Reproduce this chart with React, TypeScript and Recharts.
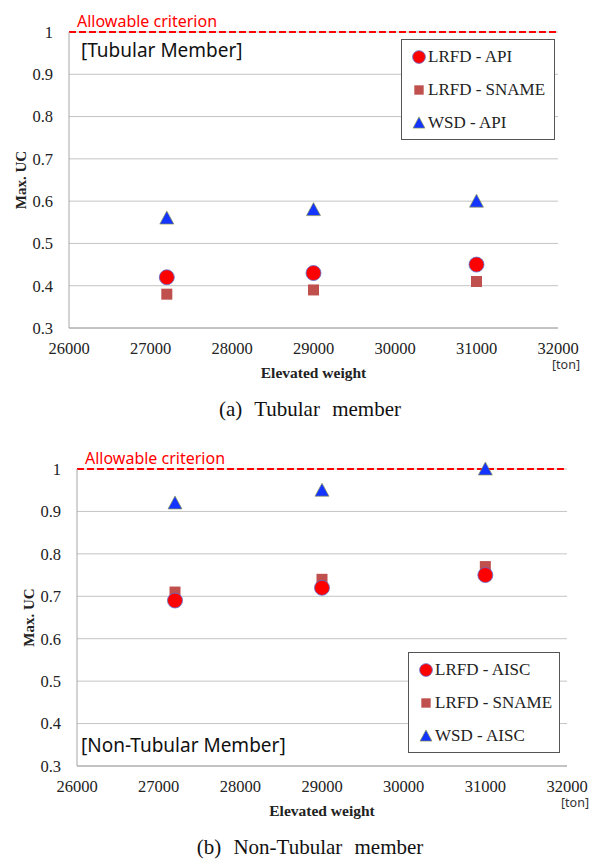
import React from 'react'
import { ScatterChart, Scatter, XAxis, YAxis, CartesianGrid, ReferenceLine, Legend } from 'recharts'

const weights = [27200, 29000, 31000]
const xTicks = [26000, 27000, 28000, 29000, 30000, 31000, 32000]
const yTicks = [0.3, 0.4, 0.5, 0.6, 0.7, 0.8, 0.9, 1]
const allowable = 1

// (a) tubular member
const tubularLrfdApi = [0.42, 0.43, 0.45]
const tubularLrfdSname = [0.38, 0.39, 0.41]
const tubularWsdApi = [0.56, 0.58, 0.6]

// (b) non-tubular member
const nonTubularLrfdAisc = [0.69, 0.72, 0.75]
const nonTubularLrfdSname = [0.71, 0.74, 0.77]
const nonTubularWsdAisc = [0.92, 0.95, 1.0]

type Kind = 'circle' | 'square' | 'triangle'

interface Series {
  name: string
  values: number[]
  kind: Kind
}

const serif = 'Liberation Serif, serif'
const sans = 'Noto Sans, DejaVu Sans, sans-serif'

function Marker({ kind, cx, cy, scale = 1 }: { kind: Kind; cx: number; cy: number; scale?: number }) {
  if (kind === 'circle') {
    return <circle cx={cx} cy={cy} r={7.5 * scale} fill="#ff0000" stroke="#5b6fd0" strokeWidth={0.8} />
  }
  if (kind === 'square') {
    const s = 11 * scale
    return <rect x={cx - s / 2} y={cy - s / 2} width={s} height={s} fill="#c0504d" />
  }
  const w = 14 * scale
  const h = 12 * scale
  return (
    <polygon
      points={`${cx},${cy - h / 2 - 1} ${cx - w / 2},${cy + h / 2} ${cx + w / 2},${cy + h / 2}`}
      fill="#1434ff"
      stroke="#8c9a52"
      strokeWidth={0.7}
    />
  )
}

interface ChartProps {
  series: Series[]
  margin: { top: number; right: number; bottom: number; left: number }
  legendLeft: number
  legendTop: number
  legendWidth: number
}

function MemberChart({ series, margin, legendLeft, legendTop, legendWidth }: ChartProps) {
  const toPoints = (vals: number[]) => weights.map((w, i) => ({ weight: w, uc: vals[i] }))
  // draw squares first so circles sit on top of them
  const drawOrder = [...series].sort((a, b) => (a.kind === 'square' ? -1 : b.kind === 'square' ? 1 : 0))

  return (
    <ScatterChart width={589} height={390} margin={margin}>
      <CartesianGrid vertical={false} stroke="#c4c4c4" />
      <XAxis
        type="number"
        dataKey="weight"
        domain={[26000, 32000]}
        ticks={xTicks}
        height={30}
        axisLine={{ stroke: '#a6a6a6' }}
        tickLine={false}
        tickSize={0}
        tickMargin={14}
        tick={{ fill: '#222', fontSize: 16.5, fontFamily: serif }}
        label={(p: any) => {
          const { x, y, width } = p.viewBox
          return (
            <g>
              <text x={x + width / 2} y={y + 50} textAnchor="middle" fontFamily={serif} fontWeight="bold" fontSize={15.5} fill="#222">
                Elevated weight
              </text>
              <text x={x + width + 8} y={y + 41} textAnchor="middle" fontFamily={sans} fontSize={12.5} fill="#333">
                [ton]
              </text>
            </g>
          )
        }}
      />
      <YAxis
        type="number"
        dataKey="uc"
        domain={[0.3, 1]}
        ticks={yTicks}
        width={50}
        axisLine={{ stroke: '#a6a6a6' }}
        tickLine={false}
        tickSize={0}
        tickMargin={16}
        tick={{ fill: '#222', fontSize: 16.5, fontFamily: serif }}
        label={(p: any) => {
          const { x, y, height } = p.viewBox
          const cx = x + 2
          const cy = y + height / 2
          return (
            <text x={cx} y={cy} transform={`rotate(-90 ${cx} ${cy})`} textAnchor="middle" dominantBaseline="central" fontFamily={serif} fontWeight="bold" fontSize={15} fill="#222">
              Max. UC
            </text>
          )
        }}
      />
      <ReferenceLine
        y={allowable}
        stroke="#ff0000"
        strokeWidth={2}
        strokeDasharray="7 3"
        label={(p: any) => (
          <text x={p.viewBox.x + 8} y={p.viewBox.y - 5} fontFamily={sans} fontSize={16} fill="#ff0000">
            Allowable criterion
          </text>
        )}
      />
      {drawOrder.map((s) => (
        <Scatter
          key={s.name}
          name={s.name}
          data={toPoints(s.values)}
          isAnimationActive={false}
          shape={(p: any) => <Marker kind={s.kind} cx={p.cx} cy={p.cy} />}
        />
      ))}
      <Legend
        layout="vertical"
        align="center"
        verticalAlign="middle"
        wrapperStyle={{ left: legendLeft, top: legendTop, width: legendWidth }}
        content={() => (
          <div style={{ border: '1.5px solid #555', background: '#fff', padding: '0 0 0 10px', boxSizing: 'border-box' }}>
            {series.map((s) => (
              <div key={s.name} style={{ display: 'flex', alignItems: 'center', height: 33 }}>
                <svg width={15} height={14} style={{ marginRight: 1 }}>
                  <Marker kind={s.kind} cx={7} cy={7} scale={0.85} />
                </svg>
                <span style={{ fontFamily: serif, fontSize: 17, color: '#222' }}>{s.name}</span>
              </div>
            ))}
          </div>
        )}
      />
    </ScatterChart>
  )
}

const tubularSeries: Series[] = [
  { name: 'LRFD - API', values: tubularLrfdApi, kind: 'circle' },
  { name: 'LRFD - SNAME', values: tubularLrfdSname, kind: 'square' },
  { name: 'WSD - API', values: tubularWsdApi, kind: 'triangle' },
]

const nonTubularSeries: Series[] = [
  { name: 'LRFD - AISC', values: nonTubularLrfdAisc, kind: 'circle' },
  { name: 'LRFD - SNAME', values: nonTubularLrfdSname, kind: 'square' },
  { name: 'WSD - AISC', values: nonTubularWsdAisc, kind: 'triangle' },
]

const memberLabel: React.CSSProperties = {
  position: 'absolute',
  fontFamily: sans,
  fontSize: 19,
  color: '#111',
  whiteSpace: 'nowrap',
}

const caption: React.CSSProperties = {
  position: 'absolute',
  left: 0,
  width: 620,
  textAlign: 'center',
  fontFamily: serif,
  fontSize: 21,
  color: '#111',
  wordSpacing: 7,
}

const css = `
body { margin: 0; }
.recharts-cartesian-axis-tick-value { font-family: 'Liberation Serif', serif; }
`

export default function App() {
  return (
    <div style={{ position: 'relative', width: 589, height: 859, background: '#fff' }}>
      <style>{css}</style>

      <div style={{ position: 'absolute', left: 0, top: 0 }}>
        <MemberChart
          series={tubularSeries}
          margin={{ top: 32, right: 31, bottom: 32, left: 19 }}
          legendLeft={401}
          legendTop={39}
          legendWidth={154}
        />
      </div>
      <div style={{ ...memberLabel, left: 81, top: 37 }}>[Tubular Member]</div>
      <div style={{ ...caption, top: 397 }}>(a) Tubular member</div>

      <div style={{ position: 'absolute', left: 0, top: 430 }}>
        <MemberChart
          series={nonTubularSeries}
          margin={{ top: 39, right: 22, bottom: 24, left: 27 }}
          legendLeft={408}
          legendTop={222}
          legendWidth={152}
        />
      </div>
      <div style={{ ...memberLabel, left: 81, top: 732 }}>[Non-Tubular Member]</div>
      <div style={{ ...caption, top: 835 }}>(b) Non-Tubular member</div>
    </div>
  )
}
